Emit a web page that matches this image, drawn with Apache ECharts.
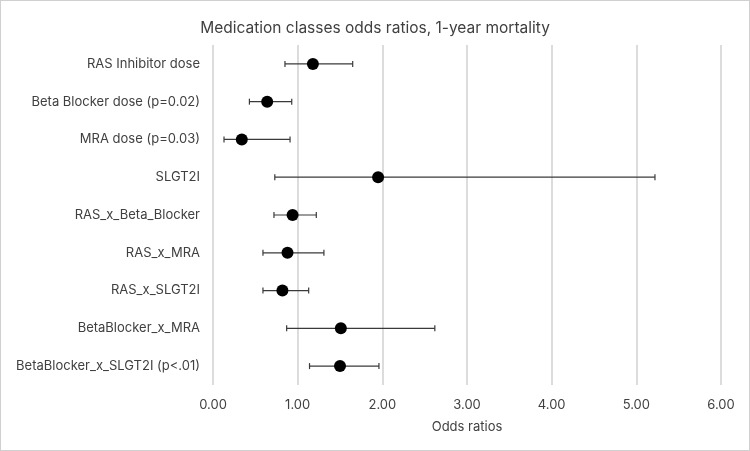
<!DOCTYPE html>
<html>
<head>
<meta charset="utf-8">
<script src="https://cdn.jsdelivr.net/npm/echarts@6/dist/echarts.min.js"></script>
<style>
  html, body { margin: 0; padding: 0; background: #fff; }
  #chart { width: 748px; height: 449px; border: 1px solid #d0d0d0; }
</style>
</head>
<body>
<div id="chart"></div>
<script>
// forest plot data
const categories = [
  "RAS Inhibitor dose",
  "Beta Blocker dose (p=0.02)",
  "MRA dose (p=0.03)",
  "SLGT2I",
  "RAS_x_Beta_Blocker",
  "RAS_x_MRA",
  "RAS_x_SLGT2I",
  "BetaBlocker_x_MRA",
  "BetaBlocker_x_SLGT2I (p<.01)"
];
const oddsRatio = [1.18, 0.64, 0.34, 1.95, 0.94, 0.88, 0.82, 1.51, 1.50];
const ciLow     = [0.85, 0.43, 0.13, 0.73, 0.72, 0.59, 0.59, 0.87, 1.14];
const ciHigh    = [1.65, 0.93, 0.91, 5.22, 1.22, 1.31, 1.13, 2.62, 1.96];

const textColor = "#404040";
const font = "Inter, 'Open Sans', sans-serif";

const chart = echarts.init(document.getElementById("chart"));

// error bar: horizontal line with small caps at both ends
function renderBar(params, api) {
  const idx = api.value(0);
  const a = api.coord([api.value(1), idx]);
  const b = api.coord([api.value(2), idx]);
  const h = 3;
  const style = { stroke: "#3a3a3a", lineWidth: 1.2 };
  return {
    type: "group",
    children: [
      { type: "line", shape: { x1: a[0], y1: a[1], x2: b[0], y2: b[1] }, style: style },
      { type: "line", shape: { x1: a[0], y1: a[1] - h, x2: a[0], y2: a[1] + h }, style: style },
      { type: "line", shape: { x1: b[0], y1: b[1] - h, x2: b[0], y2: b[1] + h }, style: style }
    ]
  };
}

chart.setOption({
  animation: false,
  textStyle: { fontFamily: font },
  title: {
    text: "Medication classes odds ratios, 1-year mortality",
    left: "center",
    top: 14,
    textStyle: { fontSize: 15.5, fontWeight: "normal", color: textColor, fontFamily: font }
  },
  grid: { left: 212, right: 28, top: 44, bottom: 65 },
  xAxis: {
    type: "value",
    min: 0,
    max: 6,
    interval: 1,
    name: "Odds ratios",
    nameLocation: "middle",
    nameGap: 36,
    nameTextStyle: { fontSize: 13, color: textColor },
    axisLine: { show: false },
    axisTick: { show: false },
    axisLabel: {
      fontSize: 13,
      color: textColor,
      margin: 14,
      formatter: function (v) { return v.toFixed(2); }
    },
    splitLine: { show: true, lineStyle: { color: "#d0d0d0", width: 1.5 } }
  },
  yAxis: {
    type: "category",
    data: categories,
    inverse: true,
    axisLine: { show: false },
    axisTick: { show: false },
    splitLine: { show: false },
    axisLabel: { fontSize: 13, color: textColor, margin: 13 }
  },
  series: [
    {
      type: "custom",
      renderItem: renderBar,
      encode: { x: [1, 2], y: 0 },
      data: categories.map((c, i) => [i, ciLow[i], ciHigh[i]]),
      z: 2
    },
    {
      type: "scatter",
      symbol: "circle",
      symbolSize: 12,
      itemStyle: { color: "#000", opacity: 1 },
      data: categories.map((c, i) => [oddsRatio[i], i]),
      z: 3
    }
  ]
});
</script>
</body>
</html>
